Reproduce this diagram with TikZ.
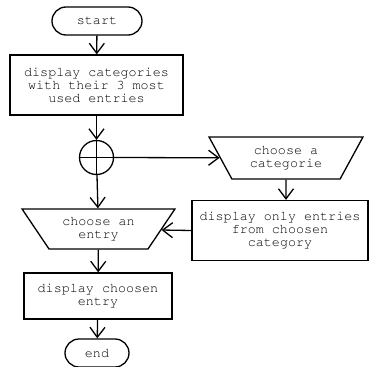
\documentclass[tikz,border=0pt]{standalone}
\usepackage[T1]{fontenc}
\usetikzlibrary{shapes.geometric,arrows.meta}
\begin{document}
\begin{tikzpicture}[x=1pt,y=-1pt,
  every node/.style={font=\fontfamily{pcr}\fontsize{13.4}{13}\selectfont, align=center, line width=1.3pt, inner sep=2pt},
  term/.style={draw, rectangle, rounded corners=14pt, minimum height=28pt},
  proc/.style={draw, rectangle},
  io/.style={draw, trapezium, shape border rotate=180, trapezium stretches=true},
  conn/.style={draw, circle, minimum size=34pt, inner sep=0pt},
  flow/.style={line width=1.3pt, -{Straight Barb[length=10pt,width=15pt,line width=1.3pt]}}
]
\useasboundingbox (0,0) rectangle (370,367);
\node[term, minimum width=90pt] (start) at (97,21) {start};
\node[proc, minimum width=173pt, minimum height=60pt] (cats) at (96.5,85) {display categories\\with their 3 most\\used entries};
\node[conn] (circ) at (96.5,157.5) {};
\draw[line width=1.3pt] (circ.north) -- (circ.south) (circ.west) -- (circ.east);
\node[io, minimum width=154pt, minimum height=42pt, trapezium angle=59.7] (cat) at (286,158) {choose a\\categorie};
\node[proc, minimum width=176pt, minimum height=60pt] (only) at (280,230.5) {display only entries\\from choosen\\category};
\node[io, minimum width=153pt, minimum height=40pt, trapezium angle=53] (entry) at (98.5,229) {choose an\\entry};
\node[proc, minimum width=148pt, minimum height=46pt] (show) at (98,296) {display choosen\\entry};
\node[term, minimum width=64pt] (end) at (97,353) {end};
\draw[flow] (start) -- (cats);
\draw[flow] (cats) -- (circ);
\draw[flow] (circ) -- (entry);
\draw[flow] (circ.east) -- (cat);
\draw[flow] (cat) -- (cat |- only.north);
\draw[flow] (only.west) -- (entry);
\draw[flow] (entry) -- (show);
\draw[flow] (show) -- (end);
\end{tikzpicture}
\end{document}
